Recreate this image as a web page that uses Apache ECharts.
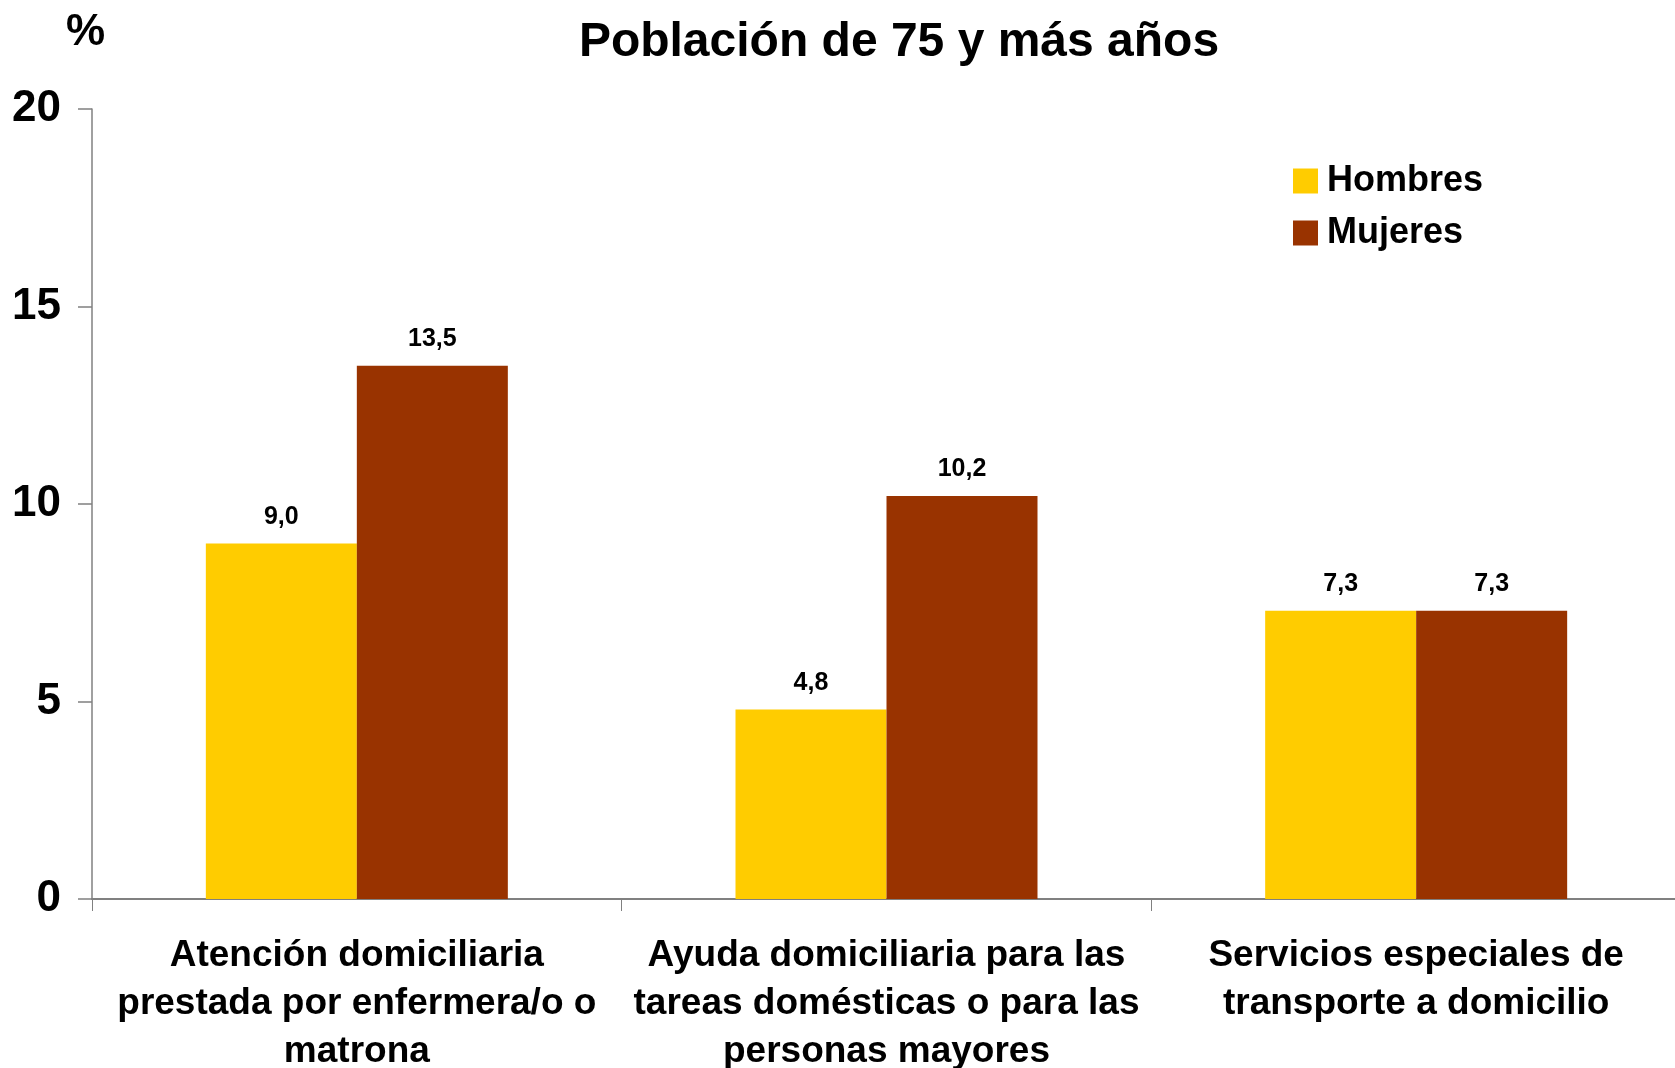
<!DOCTYPE html>
<html>
<head>
<meta charset="utf-8">
<script src="https://cdn.jsdelivr.net/npm/echarts@6/dist/echarts.min.js"></script>
<style>
  html, body { margin: 0; padding: 0; background: #fff; }
  #chart { width: 1675px; height: 1068px; }
</style>
</head>
<body>
<div id="chart"></div>
<script>
var categories = [
    'Atención domiciliaria\nprestada por enfermera/o o\nmatrona',
    'Ayuda domiciliaria para las\ntareas domésticas o para las\npersonas mayores',
    'Servicios especiales de\ntransporte a domicilio'
];
var hombres = [9.0, 4.8, 7.3];
var mujeres = [13.5, 10.2, 7.3];
var yTicks = [0, 5, 10, 15, 20];

var font = '"Liberation Sans", Arial, sans-serif';
var chart = echarts.init(document.getElementById('chart'));

function fmt(v) {
    return v.toFixed(1).replace('.', ',');
}

var barLabel = {
    show: true,
    position: 'top',
    distance: 14,
    color: '#000',
    fontFamily: font,
    fontWeight: 'bold',
    fontSize: 25,
    formatter: function (p) { return fmt(p.value); }
};

var option = {
    animation: false,
    backgroundColor: '#fff',
    title: {
        text: 'Población de 75 y más años',
        left: 894,
        top: 14,
        textAlign: 'center',
        textStyle: {
            color: '#000',
            fontFamily: font,
            fontWeight: 'bold',
            fontSize: 48
        }
    },
    graphic: [{
        type: 'text',
        left: 66,
        top: 11,
        style: {
            text: '%',
            fill: '#000',
            font: 'bold 44px ' + font
        }
    }],
    legend: {
        orient: 'vertical',
        left: 1288,
        top: 158,
        icon: 'rect',
        itemWidth: 25,
        itemHeight: 25,
        itemGap: 16,
        data: ['Hombres', 'Mujeres'],
        textStyle: {
            color: '#000',
            fontFamily: font,
            fontWeight: 'bold',
            fontSize: 36,
            lineHeight: 36,
            padding: [0, 0, 0, 4]
        }
    },
    grid: {
        left: 92,
        right: -6,
        top: 109,
        bottom: 169,
        containLabel: false,
        outerBoundsMode: 'none'
    },
    xAxis: {
        type: 'category',
        data: categories,
        axisLine: { lineStyle: { color: '#808080', width: 2 } },
        axisTick: { show: true, length: 12, lineStyle: { color: '#808080', width: 1 } },
        axisLabel: {
            interval: 0,
            margin: 33,
            color: '#000',
            fontFamily: font,
            fontWeight: 'bold',
            fontSize: 37,
            lineHeight: 48,
            align: 'center'
        },
        splitLine: { show: false }
    },
    yAxis: {
        type: 'value',
        min: yTicks[0],
        max: yTicks[yTicks.length - 1],
        interval: 5,
        axisLine: { show: true, lineStyle: { color: '#808080', width: 1.5 } },
        axisTick: { show: true, length: 14, lineStyle: { color: '#808080', width: 1.5 } },
        axisLabel: {
            margin: 31,
            color: '#000',
            fontFamily: font,
            fontWeight: 'bold',
            fontSize: 44
        },
        splitLine: { show: false }
    },
    series: [
        {
            name: 'Hombres',
            type: 'bar',
            data: hombres,
            barWidth: 151,
            barGap: '0%',
            itemStyle: { color: '#FFCC00' },
            label: barLabel
        },
        {
            name: 'Mujeres',
            type: 'bar',
            data: mujeres,
            barWidth: 151,
            barGap: '0%',
            itemStyle: { color: '#993300' },
            label: barLabel
        }
    ]
};

chart.setOption(option);
</script>
</body>
</html>
